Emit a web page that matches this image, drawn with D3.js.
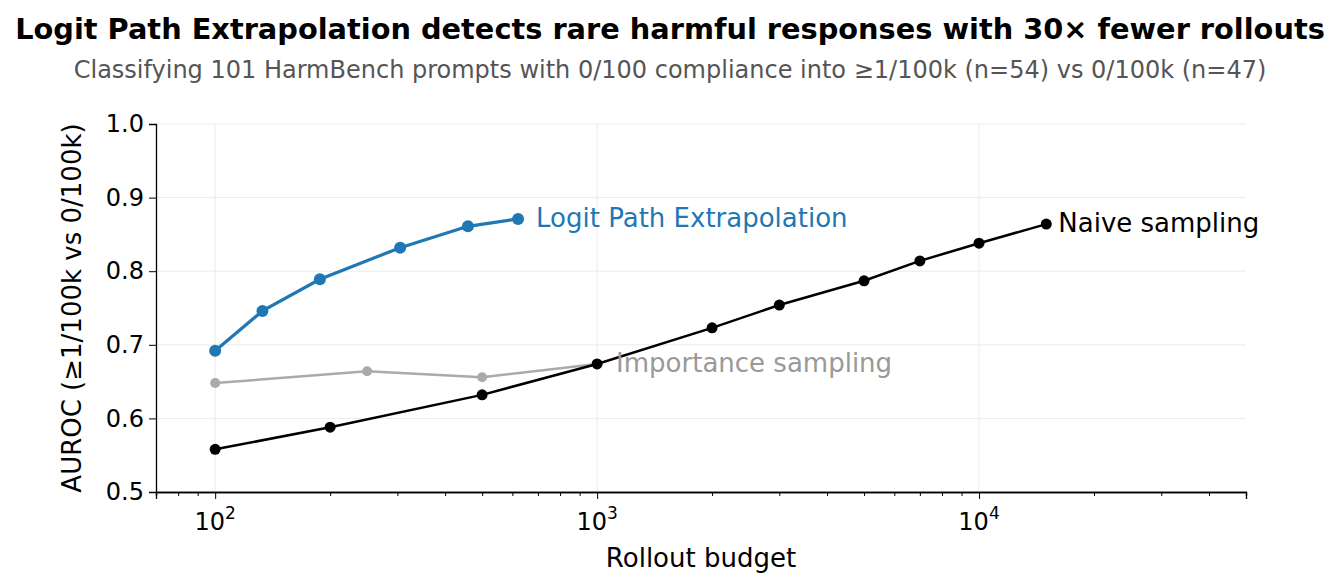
<!DOCTYPE html>
<html lang="en">
<head>
<meta charset="UTF-8">
<title>Logit Path Extrapolation</title>
<script src="https://cdnjs.cloudflare.com/ajax/libs/d3/7.8.5/d3.min.js"></script>
<style>
  body { margin: 0; background: #fff; font-family: "DejaVu Sans", sans-serif; }
</style>
</head>
<body>
<svg width="1340" height="588" id="canvas"></svg>
<script>
// data
const lpeBudget = [100, 133, 188, 305, 459, 621];
const lpeAuroc = [0.692, 0.746, 0.789, 0.832, 0.861, 0.871];
const isBudget = [100, 250, 500, 1000];
const isAuroc = [0.648, 0.664, 0.656, 0.674];
const naiveBudget = [100, 200, 500, 1000, 2000, 3000, 5000, 7000, 10000, 15000];
const naiveAuroc = [0.558, 0.588, 0.632, 0.674, 0.723, 0.754, 0.787, 0.814, 0.838, 0.864];
const yTicks = [0.5, 0.6, 0.7, 0.8, 0.9, 1.0];
const xTicks = [100, 1000, 10000];

const svg = d3.select('#canvas');
const m = {left: 156, right: 1246, top: 124, bottom: 492};

const x = d3.scaleLog().domain([70, 50000]).range([m.left, m.right]);
const y = d3.scaleLinear().domain([0.5, 1.0]).range([m.bottom, m.top]);

// grid
svg.append('g').selectAll('line').data(xTicks).join('line')
  .attr('x1', d => x(d)).attr('x2', d => x(d)).attr('y1', m.top).attr('y2', m.bottom)
  .attr('stroke', '#ebebeb').attr('stroke-width', 1);
svg.append('g').selectAll('line').data(yTicks).join('line')
  .attr('x1', m.left).attr('x2', m.right).attr('y1', d => y(d)).attr('y2', d => y(d))
  .attr('stroke', '#ebebeb').attr('stroke-width', 1);

// axes
const minor = [];
[10, 100, 1000, 10000].forEach(dec => { for (let k = 2; k <= 9; k++) { const v = dec * k; if (v >= 70 && v <= 50000) minor.push(v); } });
const gx = svg.append('g').attr('transform', 'translate(0,' + m.bottom + ')');
gx.call(d3.axisBottom(x).tickValues(minor).tickSize(4).tickFormat(''));
gx.append('g').call(d3.axisBottom(x).tickValues(xTicks).tickSize(7).tickFormat(''));
gx.selectAll('.domain').attr('stroke', '#000').attr('stroke-width', 1.3);
gx.selectAll('line').attr('stroke', '#000');
const sup = {100: '2', 1000: '3', 10000: '4'};
xTicks.forEach(v => {
  const t = svg.append('text').attr('x', x(v)).attr('y', m.bottom + 38)
    .attr('text-anchor', 'middle').attr('font-size', 24);
  t.append('tspan').text('10');
  t.append('tspan').attr('dy', -11).attr('font-size', 17).text(sup[v]);
});

const gy = svg.append('g').attr('transform', 'translate(' + m.left + ',0)')
  .call(d3.axisLeft(y).tickValues(yTicks).tickSize(7).tickFormat(d3.format('.1f')));
gy.selectAll('.domain').attr('stroke', '#000').attr('stroke-width', 1.3);
gy.selectAll('text').attr('font-size', 24).attr('font-family', 'DejaVu Sans').attr('fill', '#000').attr('dx', -2);

// series
function series(xs, ys, color, w, r) {
  const pts = xs.map((d, i) => [d, ys[i]]);
  svg.append('path').datum(pts)
    .attr('d', d3.line().x(d => x(d[0])).y(d => y(d[1])))
    .attr('fill', 'none').attr('stroke', color).attr('stroke-width', w);
  svg.append('g').selectAll('circle').data(pts).join('circle')
    .attr('cx', d => x(d[0])).attr('cy', d => y(d[1])).attr('r', r).attr('fill', color);
}
series(isBudget, isAuroc, '#aaaaaa', 2.5, 5);
series(naiveBudget, naiveAuroc, '#000000', 2.5, 5.5);
series(lpeBudget, lpeAuroc, '#1f77b4', 3.2, 6);

// labels
function label(xv, yv, dxp, txt, color) {
  svg.append('text').attr('x', x(xv) + dxp).attr('y', y(yv) + 8)
    .attr('font-size', 26).attr('fill', color).text(txt);
}
label(621, 0.871, 18, 'Logit Path Extrapolation', '#1f77b4');
label(15000, 0.864, 12, 'Naive sampling', '#000');
label(1000, 0.674, 19, 'Importance sampling', '#999999');

// titles
svg.append('text').attr('x', 670).attr('y', 39).attr('text-anchor', 'middle')
  .attr('font-size', 28.8).attr('font-weight', 'bold')
  .text('Logit Path Extrapolation detects rare harmful responses with 30× fewer rollouts');
svg.append('text').attr('x', 670).attr('y', 78).attr('text-anchor', 'middle')
  .attr('font-size', 24).attr('fill', '#555')
  .text('Classifying 101 HarmBench prompts with 0/100 compliance into ≥1/100k (n=54) vs 0/100k (n=47)');
svg.append('text').attr('x', 701).attr('y', 567).attr('text-anchor', 'middle')
  .attr('font-size', 26).text('Rollout budget');
svg.append('text').attr('transform', 'translate(81,' + (m.top + m.bottom) / 2 + ') rotate(-90)')
  .attr('text-anchor', 'middle').attr('font-size', 26).text('AUROC (≥1/100k vs 0/100k)');
</script>
</body>
</html>
